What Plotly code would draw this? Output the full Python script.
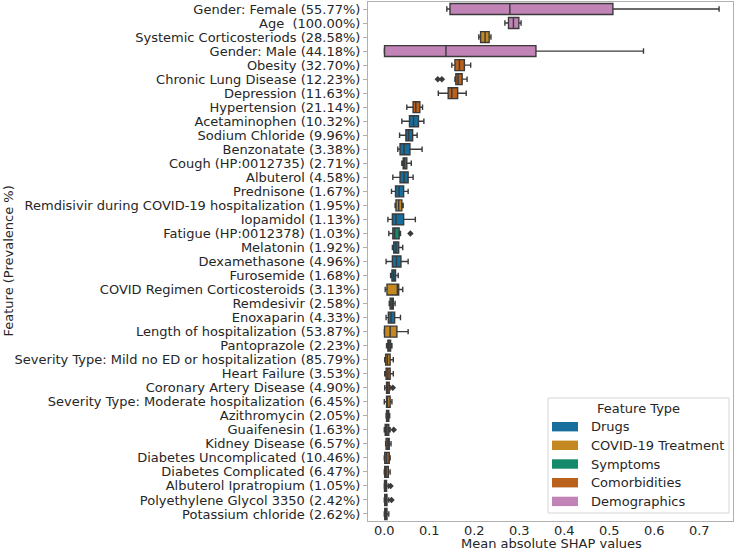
import plotly.graph_objects as go

# ---------------- data ----------------
features = [
    "Gender: Female (55.77%)", "Age  (100.00%)", "Systemic Corticosteriods (28.58%)",
    "Gender: Male (44.18%)", "Obesity (32.70%)", "Chronic Lung Disease (12.23%)",
    "Depression (11.63%)", "Hypertension (21.14%)", "Acetaminophen (10.32%)",
    "Sodium Chloride (9.96%)", "Benzonatate (3.38%)", "Cough (HP:0012735) (2.71%)",
    "Albuterol (4.58%)", "Prednisone (1.67%)",
    "Remdisivir during COVID-19 hospitalization (1.95%)", "Iopamidol (1.13%)",
    "Fatigue (HP:0012378) (1.03%)", "Melatonin (1.92%)", "Dexamethasone (4.96%)",
    "Furosemide (1.68%)", "COVID Regimen Corticosteroids (3.13%)", "Remdesivir (2.58%)",
    "Enoxaparin (4.33%)", "Length of hospitalization (53.87%)", "Pantoprazole (2.23%)",
    "Severity Type: Mild no ED or hospitalization (85.79%)", "Heart Failure (3.53%)",
    "Coronary Artery Disease (4.90%)", "Severity Type: Moderate hospitalization (6.45%)",
    "Azithromycin (2.05%)", "Guaifenesin (1.63%)", "Kidney Disease (6.57%)",
    "Diabetes Uncomplicated (10.46%)", "Diabetes Complicated (6.47%)",
    "Albuterol Ipratropium (1.05%)", "Polyethylene Glycol 3350 (2.42%)",
    "Potassium chloride (2.62%)",
]
feature_types = [
    "Demographics", "Demographics", "COVID-19 Treatment", "Demographics",
    "Comorbidities", "Comorbidities", "Comorbidities", "Comorbidities",
    "Drugs", "Drugs", "Drugs", "Symptoms", "Drugs", "Drugs",
    "COVID-19 Treatment", "Drugs", "Symptoms", "Drugs", "Drugs", "Drugs",
    "COVID-19 Treatment", "Drugs", "Drugs", "COVID-19 Treatment", "Drugs",
    "COVID-19 Treatment", "Comorbidities", "Comorbidities", "COVID-19 Treatment",
    "Drugs", "Drugs", "Comorbidities", "Comorbidities", "Comorbidities",
    "Drugs", "Drugs", "Drugs",
]
whisker_low = [0.139, 0.268, 0.210, 0.000, 0.150, 0.157, 0.120, 0.050, 0.039,
               0.034, 0.030, 0.039, 0.019, 0.016, 0.024, 0.008, 0.010, 0.018,
               0.004, 0.014, 0.002, 0.011, 0.004, 0.000, 0.005, 0.001, 0.001,
               0.001, 0.000, 0.004, 0.000, 0.003, 0.000, 0.000, 0.000, 0.000, 0.000]
q1_values = [0.146, 0.276, 0.214, 0.0005, 0.157, 0.159, 0.142, 0.064, 0.056,
             0.048, 0.035, 0.042, 0.035, 0.025, 0.026, 0.018, 0.019, 0.021,
             0.018, 0.017, 0.006, 0.013, 0.009, 0.0005, 0.008, 0.003, 0.004,
             0.005, 0.005, 0.005, 0.002, 0.004, 0.001, 0.001, 0.0005, 0.001, 0.001]
median_values = [0.279, 0.287, 0.224, 0.137, 0.167, 0.164, 0.150, 0.070, 0.065,
                 0.054, 0.044, 0.045, 0.044, 0.033, 0.032, 0.026, 0.023, 0.026,
                 0.027, 0.021, 0.029, 0.017, 0.015, 0.013, 0.010, 0.007, 0.008,
                 0.007, 0.007, 0.006, 0.005, 0.008, 0.005, 0.004, 0.002, 0.003, 0.003]
q3_values = [0.508, 0.299, 0.233, 0.337, 0.178, 0.173, 0.163, 0.079, 0.076,
             0.063, 0.057, 0.050, 0.053, 0.043, 0.039, 0.043, 0.033, 0.032,
             0.037, 0.025, 0.032, 0.020, 0.023, 0.028, 0.014, 0.013, 0.013,
             0.011, 0.013, 0.010, 0.010, 0.011, 0.011, 0.009, 0.005, 0.006, 0.006]
whisker_high = [0.744, 0.304, 0.237, 0.576, 0.192, 0.184, 0.182, 0.085, 0.088,
                0.073, 0.084, 0.060, 0.064, 0.053, 0.042, 0.069, 0.036, 0.041,
                0.053, 0.031, 0.041, 0.024, 0.036, 0.053, 0.017, 0.020, 0.020,
                0.013, 0.017, 0.012, 0.013, 0.015, 0.013, 0.013, 0.009, 0.010, 0.010]

outlier_features = ["Chronic Lung Disease (12.23%)", "Chronic Lung Disease (12.23%)",
                    "Fatigue (HP:0012378) (1.03%)", "Coronary Artery Disease (4.90%)",
                    "Guaifenesin (1.63%)", "Albuterol Ipratropium (1.05%)",
                    "Polyethylene Glycol 3350 (2.42%)"]
outlier_values = [0.119, 0.128, 0.058, 0.019, 0.021, 0.014, 0.016]

type_names = ["Drugs", "COVID-19 Treatment", "Symptoms", "Comorbidities", "Demographics"]
type_colors = ["#176d9c", "#c38820", "#168a6a", "#ba611b", "#c283b6"]

x_ticks = [0.0, 0.1, 0.2, 0.3, 0.4, 0.5, 0.6, 0.7]

# ---------------- figure ----------------
FONT = "DejaVu Sans"
LINE = "#3a3a3a"
TXT = "#262626"
FS = 13
W, H = 740, 551
ML, MR, MT, MB = 368, 7, 2, 30

fig = go.Figure()
for tname, tcol in zip(type_names, type_colors):
    idx = [i for i, t in enumerate(feature_types) if t == tname]
    fig.add_trace(go.Box(
        y=[features[i] for i in idx],
        lowerfence=[whisker_low[i] for i in idx],
        q1=[q1_values[i] for i in idx],
        median=[median_values[i] for i in idx],
        q3=[q3_values[i] for i in idx],
        upperfence=[whisker_high[i] for i in idx],
        orientation="h",
        fillcolor=tcol,
        line=dict(color=LINE, width=1.4),
        whiskerwidth=0.5,
        width=0.78,
        boxpoints=False,
        name=tname,
        showlegend=False,
        hoverinfo="skip",
    ))

fig.add_trace(go.Scatter(
    x=outlier_values, y=outlier_features, mode="markers",
    marker=dict(symbol="diamond", size=5, color=LINE),
    showlegend=False, hoverinfo="skip",
))

plot_w = W - ML - MR
plot_h = H - MT - MB


def px_x(px):
    return (px - ML) / plot_w


def px_y(py):
    return (H - MB - py) / plot_h


shapes = []
annotations = []
# legend box
shapes.append(dict(type="rect", xref="paper", yref="paper",
                   x0=px_x(548), x1=px_x(729), y0=px_y(513), y1=px_y(398),
                   line=dict(color="#d6d6d6", width=1), fillcolor="rgba(255,255,255,0.85)",
                   layer="above"))
annotations.append(dict(text="Feature Type", xref="paper", yref="paper",
                        x=px_x(638), y=px_y(408.5), xanchor="center", yanchor="middle",
                        showarrow=False, font=dict(family=FONT, size=FS, color=TXT)))
legend_y = [426.7, 445.3, 464.0, 482.7, 501.4]
for tname, tcol, ly in zip(type_names, type_colors, legend_y):
    shapes.append(dict(type="rect", xref="paper", yref="paper",
                       x0=px_x(552), x1=px_x(578), y0=px_y(ly + 4.7), y1=px_y(ly - 4.7),
                       line=dict(width=0), fillcolor=tcol, layer="above"))
    annotations.append(dict(text=tname, xref="paper", yref="paper",
                            x=px_x(588.5), y=px_y(ly), xanchor="left", yanchor="middle",
                            showarrow=False, font=dict(family=FONT, size=FS, color=TXT)))

# axis titles
annotations.append(dict(text="Mean absolute SHAP values", xref="paper", yref="paper",
                        x=px_x(551), y=px_y(543), xanchor="center", yanchor="middle",
                        showarrow=False, font=dict(family=FONT, size=FS, color=TXT)))
annotations.append(dict(text="Feature (Prevalence %)", xref="paper", yref="paper",
                        x=px_x(8), y=px_y(261.5), xanchor="center", yanchor="middle",
                        textangle=-90,
                        showarrow=False, font=dict(family=FONT, size=FS, color=TXT)))

fig.update_layout(
    template="none",
    width=W, height=H,
    margin=dict(l=ML, r=MR, t=MT, b=MB, pad=0, autoexpand=False),
    paper_bgcolor="white", plot_bgcolor="white",
    boxmode="overlay",
    showlegend=False,
    font=dict(family=FONT, size=FS, color=TXT),
    shapes=shapes, annotations=annotations,
    xaxis=dict(range=[-0.0362, 0.7749], tickmode="array", tickvals=x_ticks,
               ticktext=[f"{v:.1f}" for v in x_ticks],
               automargin=False, ticklabelstandoff=-3,
               showgrid=False, zeroline=False,
               showline=True, mirror=True, linecolor="#b0b0b0", linewidth=1,
               ticks="", tickfont=dict(family=FONT, size=FS, color=TXT)),
    yaxis=dict(type="category", categoryorder="array", categoryarray=features,
               tickmode="array", tickvals=features, ticktext=features,
               range=[len(features) - 0.5, -0.5],
               automargin=False,
               showgrid=False, zeroline=False,
               showline=True, mirror=True, linecolor="#b0b0b0", linewidth=1,
               ticks="outside", ticklen=4, tickcolor="#b0b0b0",
               tickfont=dict(family=FONT, size=FS, color=TXT)),
)

fig.write_html("out.html", config={"displayModeBar": False},
               post_script="document.body.style.margin='0';")
